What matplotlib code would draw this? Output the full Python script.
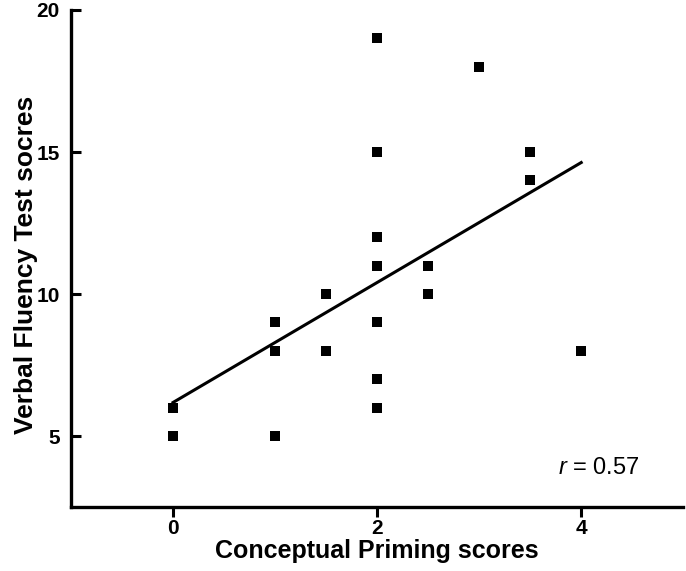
import matplotlib
matplotlib.use("Agg")
import matplotlib.pyplot as plt
import numpy as np

x_vals = [0, 0, 1, 1, 1, 1.5, 1.5, 2, 2, 2, 2, 2, 2, 2, 2.5, 2.5, 3, 3.5, 3.5, 4]
y_vals = [6, 5, 9, 8, 5, 10, 8, 19, 15, 12, 11, 9, 7, 6, 11, 10, 18, 15, 14, 8]
x_ticks = [0, 2, 4]
y_ticks = [5, 10, 15, 20]
r_text = "0.57"

plt.rcParams['font.family'] = ['Liberation Sans', 'DejaVu Sans']
plt.rcParams['mathtext.fontset'] = 'custom'
plt.rcParams['mathtext.it'] = 'Liberation Sans:italic'
plt.rcParams['mathtext.rm'] = 'Liberation Sans'

fig = plt.figure(figsize=(6.86, 5.71), dpi=100)
ax = fig.add_axes([0.1035, 0.112, 0.8925, 0.8705])

ax.scatter(x_vals, y_vals, marker='s', s=7.2**2, color='black', linewidths=0, zorder=3)

coef = np.polyfit(x_vals, y_vals, 1)
xl = np.array([min(x_vals), max(x_vals)])
ax.plot(xl, np.polyval(coef, xl), color='black', lw=2.2, zorder=2)

ax.set_xlim(-1, 5)
ax.set_ylim(2.5, 20)
ax.set_xticks(x_ticks)
ax.set_yticks(y_ticks)
for s in ['top', 'right']:
    ax.spines[s].set_visible(False)
for s in ['left', 'bottom']:
    ax.spines[s].set_linewidth(2.4)
ax.tick_params(axis='y', direction='in', length=7, width=2.2, labelsize=15, pad=8)
ax.tick_params(axis='x', direction='out', length=7, width=2.2, labelsize=15, pad=1.5)
for lab in ax.get_xticklabels() + ax.get_yticklabels():
    lab.set_fontweight('bold')

ax.set_xlabel('Conceptual Priming scores', fontsize=18, fontweight='bold')
ax.set_ylabel('Verbal Fluency Test socres', fontsize=19, fontweight='bold')
ax.xaxis.set_label_coords(0.5, -0.064)
ax.yaxis.set_label_coords(-0.054, 0.487)

ax.text(4.17, 3.87, r'$\it{r}$ = ' + r_text, fontsize=17, ha='center', va='center')

fig.savefig('out.png', dpi=100)
